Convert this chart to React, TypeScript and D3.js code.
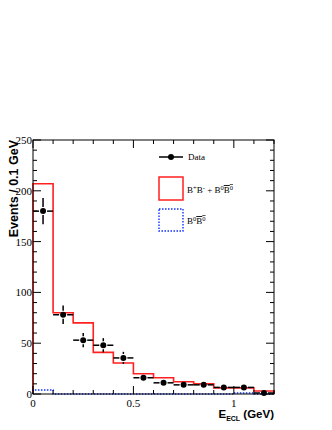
import React, { useEffect, useRef } from 'react'
import { select, scaleLinear, range } from 'd3'

// bin lower edges (GeV), 0.1 wide
const binEdges = [0, 0.1, 0.2, 0.3, 0.4, 0.5, 0.6, 0.7, 0.8, 0.9, 1.0, 1.1]
const mcTotal = [207, 80, 70, 41, 30.5, 20, 16, 12, 10, 6, 6, 3]
const mcB0 = [4, 0, 0, 0, 0, 0, 0, 0, 0, 0, 1, 0]
const dataVals = [180, 78, 53, 48, 35.5, 16, 11, 9, 9, 6.5, 6.5, 1]
const dataErr = [13, 9, 7, 7, 6, 4, 3.3, 3, 3, 2.5, 2.5, 1]
const yTicks = [0, 50, 100, 150, 200, 250]
const xTicks = [0, 0.5, 1]

function App() {
  const ref = useRef<SVGSVGElement>(null)

  useEffect(() => {
    const svg = select(ref.current)
    svg.selectAll('*').remove()

    const left = 33, right = 274, top = 140, bottom = 394
    const x = scaleLinear().domain([0, 1.2]).range([left, right])
    const y = scaleLinear().domain([0, 250]).range([bottom, top])
    const serif = 'Liberation Serif, Times New Roman, serif'
    const sans = 'Liberation Sans, Arial, sans-serif'

    const stepPath = (vals: number[]) => {
      let d = `M${x(0)},${y(0)}`
      vals.forEach((v, i) => {
        d += `V${y(v)}H${x(binEdges[i] + 0.1)}`
      })
      return d + `V${y(0)}`
    }

    // histograms
    svg.append('path').attr('d', stepPath(mcTotal))
      .attr('fill', 'none').attr('stroke', '#ff2020').attr('stroke-width', 1.6)
    svg.append('path').attr('d', stepPath(mcB0))
      .attr('fill', 'none').attr('stroke', '#1030ff').attr('stroke-width', 1.4)
      .attr('stroke-dasharray', '1.5,1.5')

    // data points
    const pts = svg.append('g')
    dataVals.forEach((v, i) => {
      const cx = x(binEdges[i] + 0.05), cy = y(v)
      const gap = 4
      pts.append('line').attr('x1', x(binEdges[i])).attr('x2', cx - gap).attr('y1', cy).attr('y2', cy)
        .attr('stroke', '#000').attr('stroke-width', 1.5)
      pts.append('line').attr('x1', cx + gap).attr('x2', x(binEdges[i] + 0.1)).attr('y1', cy).attr('y2', cy)
        .attr('stroke', '#000').attr('stroke-width', 1.5)
      const ey = y(v + dataErr[i]), ey2 = y(Math.max(0, v - dataErr[i]))
      if (cy - ey > gap) {
        pts.append('line').attr('x1', cx).attr('x2', cx).attr('y1', ey).attr('y2', cy - gap)
          .attr('stroke', '#000').attr('stroke-width', 1.5)
        pts.append('line').attr('x1', cx).attr('x2', cx).attr('y1', cy + gap).attr('y2', ey2)
          .attr('stroke', '#000').attr('stroke-width', 1.5)
      }
      pts.append('circle').attr('cx', cx).attr('cy', cy).attr('r', 3).attr('fill', '#000')
    })

    // frame
    svg.append('rect').attr('x', left).attr('y', top).attr('width', right - left).attr('height', bottom - top)
      .attr('fill', 'none').attr('stroke', '#000').attr('stroke-width', 1)

    const ax = svg.append('g').attr('stroke', '#000').attr('stroke-width', 1)
    range(0, 251, 10).forEach(v => {
      const len = v % 50 === 0 ? 8 : 4
      ax.append('line').attr('x1', left).attr('x2', left + len).attr('y1', y(v)).attr('y2', y(v))
      ax.append('line').attr('x1', right).attr('x2', right - len).attr('y1', y(v)).attr('y2', y(v))
    })
    range(0, 13).forEach(k => {
      const v = k / 10
      const len = k % 5 === 0 ? 8 : 4
      ax.append('line').attr('x1', x(v)).attr('x2', x(v)).attr('y1', bottom).attr('y2', bottom - len)
      ax.append('line').attr('x1', x(v)).attr('x2', x(v)).attr('y1', top).attr('y2', top + len)
    })

    // tick labels
    yTicks.forEach(v => {
      svg.append('text').attr('x', left - 1).attr('y', y(v) + 4).attr('text-anchor', 'end')
        .attr('font-family', serif).attr('font-size', 11).text(v)
    })
    xTicks.forEach(v => {
      svg.append('text').attr('x', x(v)).attr('y', bottom + 13).attr('text-anchor', 'middle')
        .attr('font-family', serif).attr('font-size', 11).text(v)
    })

    // axis titles
    svg.append('text').attr('transform', `translate(18,${top}) rotate(-90)`).attr('text-anchor', 'end')
      .attr('font-family', sans).attr('font-weight', 'bold').attr('font-size', 12.5)
      .text('Events / 0.1 GeV')
    const xt = svg.append('text').attr('x', right).attr('y', 418).attr('text-anchor', 'end')
      .attr('font-family', sans).attr('font-weight', 'bold').attr('font-size', 11.5)
    xt.append('tspan').text('E')
    xt.append('tspan').attr('font-size', 7).attr('dy', 3).text('ECL')
    xt.append('tspan').attr('dy', -3).text(' (GeV)')

    // legend
    const lg = svg.append('g')
    lg.append('line').attr('x1', 159).attr('x2', 183).attr('y1', 157).attr('y2', 157)
      .attr('stroke', '#000').attr('stroke-width', 1.5)
    lg.append('circle').attr('cx', 171).attr('cy', 157).attr('r', 3).attr('fill', '#000')
    lg.append('text').attr('x', 188).attr('y', 160).attr('font-family', serif).attr('font-size', 9).text('Data')

    lg.append('rect').attr('x', 159).attr('y', 177).attr('width', 24).attr('height', 23)
      .attr('fill', 'none').attr('stroke', '#ff2020').attr('stroke-width', 1.5)
    const t1 = lg.append('text').attr('x', 187).attr('y', 193).attr('font-family', serif).attr('font-size', 9)
    t1.append('tspan').text('B')
    t1.append('tspan').attr('font-size', 6.5).attr('dy', -3).text('+')
    t1.append('tspan').attr('dy', 3).text('B')
    t1.append('tspan').attr('font-size', 6.5).attr('dy', -3).text('-')
    t1.append('tspan').attr('dy', 3).text(' + B')
    t1.append('tspan').attr('font-size', 6.5).attr('dy', -3).text('0')
    t1.append('tspan').attr('dy', 3).attr('text-decoration', 'overline').text('B')
    t1.append('tspan').attr('font-size', 6.5).attr('dy', -3).attr('text-decoration', 'overline').text('0')

    lg.append('rect').attr('x', 159).attr('y', 209).attr('width', 24).attr('height', 22)
      .attr('fill', 'none').attr('stroke', '#1030ff').attr('stroke-width', 1.4).attr('stroke-dasharray', '1.5,1.5')
    const t2 = lg.append('text').attr('x', 187).attr('y', 224).attr('font-family', serif).attr('font-size', 9)
    t2.append('tspan').text('B')
    t2.append('tspan').attr('font-size', 6.5).attr('dy', -3).text('0')
    t2.append('tspan').attr('dy', 3).attr('text-decoration', 'overline').text('B')
    t2.append('tspan').attr('font-size', 6.5).attr('dy', -3).attr('text-decoration', 'overline').text('0')
  }, [])

  return (
    <svg ref={ref} width={332} height={430} style={{ position: 'absolute', left: 0, top: 0 }}></svg>
  )
}

export default App
